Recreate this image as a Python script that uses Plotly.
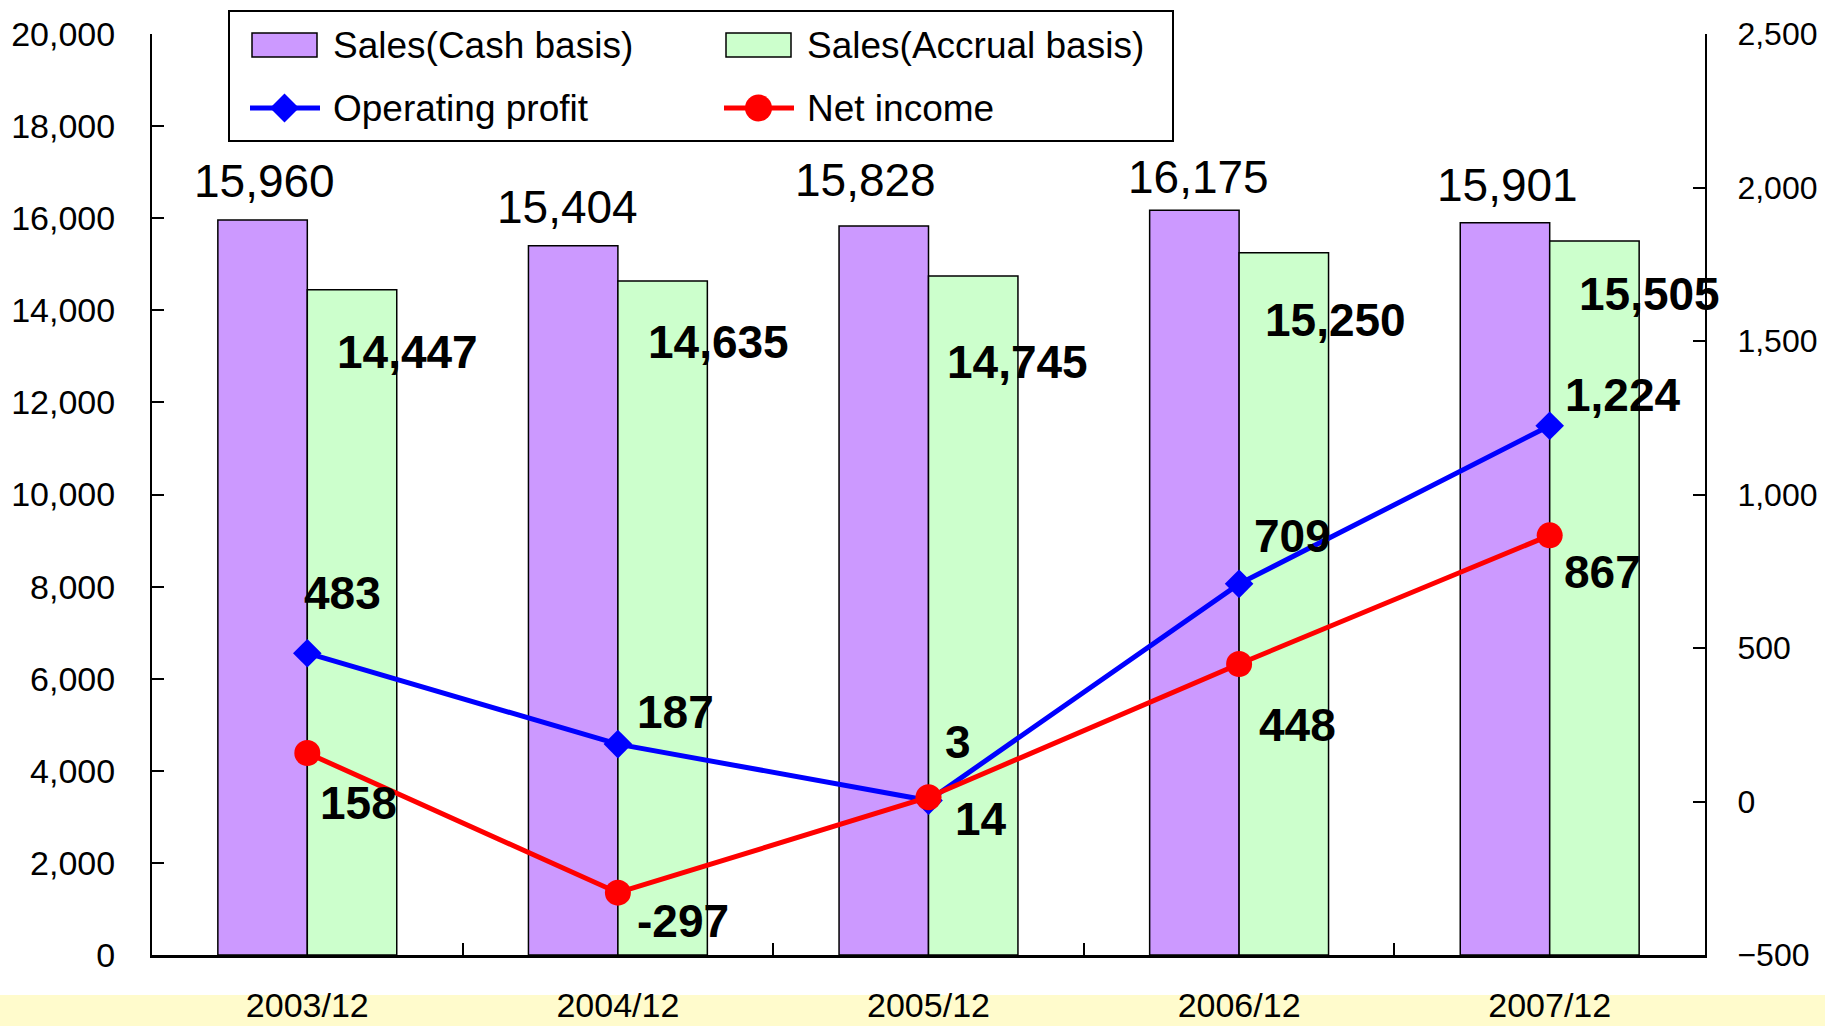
import plotly.graph_objects as go

# ---------------- data ----------------
categories = ["2003/12", "2004/12", "2005/12", "2006/12", "2007/12"]
sales_cash = [15960, 15404, 15828, 16175, 15901]
sales_accrual = [14447, 14635, 14745, 15250, 15505]
operating_profit = [483, 187, 3, 709, 1224]
net_income = [158, -297, 14, 448, 867]

left_ticks = list(range(0, 20001, 2000))
right_ticks = list(range(-500, 2501, 500))

# ---------------- layout constants (pixels) ----------------
FIG_W, FIG_H = 1825, 1026
L, R, T, B = 152, 1705, 34, 955
PW, PH = R - L, B - T
BARGAP = 0.424
CAT_PX = PW / len(categories)
BAR_PX = (1 - BARGAP) / 2 * CAT_PX

FONT = "Liberation Sans"
PURPLE = "#CC99FF"
GREEN = "#CCFFCC"
BLUE = "#0000FF"
RED = "#FF0000"

# label offsets in pixels (label placement only)
cash_dx = [2, -6, -18, 4, 3]
cash_dy = [39, 39, 46, 33, 38]
acc_dx = [55, 56, 44, 52, 55]
acc_dy = [62, 61, 86, 67, 53]
op_dx = [35, 58, 29, 53, 73]
op_dy = [60, 32, 59, 48, 31]
ni_dx = [51, 65, 52, 58, 53]
ni_dy = [50, 28, 22, 61, 37]


def px_x(px):
    return (px - L) / PW


def px_y(py):
    return (B - py) / PH


fig = go.Figure()
fig.add_trace(go.Bar(x=categories, y=sales_cash, name="Sales(Cash basis)",
                     marker=dict(color=PURPLE, line=dict(color="black", width=1.5)),
                     showlegend=False))
fig.add_trace(go.Bar(x=categories, y=sales_accrual, name="Sales(Accrual basis)",
                     marker=dict(color=GREEN, line=dict(color="black", width=1.5)),
                     showlegend=False))
fig.add_trace(go.Scatter(x=categories, y=operating_profit, name="Operating profit",
                         yaxis="y2", mode="lines+markers",
                         line=dict(color=BLUE, width=5),
                         marker=dict(symbol="diamond", size=22, color=BLUE),
                         showlegend=False))
fig.add_trace(go.Scatter(x=categories, y=net_income, name="Net income",
                         yaxis="y2", mode="lines+markers",
                         line=dict(color=RED, width=5),
                         marker=dict(symbol="circle", size=26, color=RED),
                         showlegend=False))

annotations = []
for i, c in enumerate(categories):
    annotations.append(dict(x=c, y=sales_cash[i], xref="x", yref="y",
                            text=f"{sales_cash[i]:,}", showarrow=False,
                            xshift=-BAR_PX / 2 + cash_dx[i], yshift=cash_dy[i],
                            font=dict(family=FONT, size=46, color="black")))
    annotations.append(dict(x=c, y=sales_accrual[i], xref="x", yref="y",
                            text=f"<b>{sales_accrual[i]:,}</b>", showarrow=False,
                            xshift=BAR_PX / 2 + acc_dx[i], yshift=-acc_dy[i],
                            font=dict(family=FONT, size=46, color="black")))
    annotations.append(dict(x=c, y=operating_profit[i], xref="x", yref="y2",
                            text=f"<b>{operating_profit[i]:,}</b>", showarrow=False,
                            xshift=op_dx[i], yshift=op_dy[i],
                            font=dict(family=FONT, size=46, color="black")))
    annotations.append(dict(x=c, y=net_income[i], xref="x", yref="y2",
                            text=f"<b>{net_income[i]:,}</b>", showarrow=False,
                            xshift=ni_dx[i], yshift=-ni_dy[i],
                            font=dict(family=FONT, size=46, color="black")))

# ---------------- manual legend ----------------
shapes = []
# yellow band behind category labels
shapes.append(dict(type="rect", xref="paper", yref="paper",
                   x0=px_x(0), x1=px_x(FIG_W), y0=px_y(FIG_H), y1=px_y(995),
                   fillcolor="#FFFBCC", line=dict(width=0), layer="below"))
# legend box
shapes.append(dict(type="rect", xref="paper", yref="paper",
                   x0=px_x(229), x1=px_x(1173), y0=px_y(141), y1=px_y(11),
                   fillcolor="white", line=dict(color="black", width=2)))
legend_rows = [45, 108]
legend_cols = [(252, 317, 331), (726, 791, 805)]
legend_names = ["Sales(Cash basis)", "Sales(Accrual basis)", "Operating profit", "Net income"]
# bar swatches
for (x0, x1, _), col in zip(legend_cols, [PURPLE, GREEN]):
    shapes.append(dict(type="rect", xref="paper", yref="paper",
                       x0=px_x(x0), x1=px_x(x1), y0=px_y(legend_rows[0] + 12),
                       y1=px_y(legend_rows[0] - 12),
                       fillcolor=col, line=dict(color="black", width=1.5)))
# line swatches
for (x0, x1, _), col in zip(legend_cols, [BLUE, RED]):
    shapes.append(dict(type="line", xref="paper", yref="paper",
                       x0=px_x(x0 - 2), x1=px_x(x1 + 3), y0=px_y(legend_rows[1]),
                       y1=px_y(legend_rows[1]), line=dict(color=col, width=5)))
# diamond
cx, cy, r = (252 + 317) / 2, legend_rows[1], 14.5
shapes.append(dict(type="path", xref="paper", yref="paper",
                   path=f"M {px_x(cx - r)} {px_y(cy)} L {px_x(cx)} {px_y(cy - r)} "
                        f"L {px_x(cx + r)} {px_y(cy)} L {px_x(cx)} {px_y(cy + r)} Z",
                   fillcolor=BLUE, line=dict(width=0)))
# circle
cx, r = (726 + 791) / 2, 13.5
shapes.append(dict(type="circle", xref="paper", yref="paper",
                   x0=px_x(cx - r), x1=px_x(cx + r), y0=px_y(cy + r), y1=px_y(cy - r),
                   fillcolor=RED, line=dict(width=0)))
for k, name in enumerate(legend_names):
    row, col = divmod(k, 2)
    annotations.append(dict(x=px_x(legend_cols[col][2]), y=px_y(legend_rows[row]),
                            xref="paper", yref="paper", xanchor="left", yanchor="middle",
                            text=name, showarrow=False,
                            font=dict(family=FONT, size=37, color="black")))

axis_common = dict(showline=True, linecolor="black", linewidth=2, ticks="inside",
                   ticklen=12, tickwidth=2, tickcolor="black", showgrid=False,
                   zeroline=False, automargin=False)

fig.update_layout(
    template="none",
    width=FIG_W, height=FIG_H,
    margin=dict(l=L, r=FIG_W - R, t=T, b=FIG_H - B, pad=0, autoexpand=False),
    paper_bgcolor="white", plot_bgcolor="white",
    barmode="group", bargap=BARGAP, bargroupgap=0,
    showlegend=False,
    font=dict(family=FONT, color="black"),
    xaxis=dict(type="category", range=[-0.5, 4.5], tickson="boundaries",
               showline=True, linecolor="black", linewidth=3, ticks="inside",
               ticklen=12, tickwidth=2, tickcolor="black", showgrid=False,
               zeroline=False, automargin=False,
               tickfont=dict(family=FONT, size=34, color="black"),
               ticklabelstandoff=18),
    yaxis=dict(range=[0, 20000], tickvals=left_ticks, tickformat=",d",
               ticklabelstandoff=28,
               tickfont=dict(family=FONT, size=34, color="black"), **axis_common),
    yaxis2=dict(range=[-500, 2500], tickvals=right_ticks, tickformat=",d",
                overlaying="y", side="right", ticklabelstandoff=24,
                tickfont=dict(family=FONT, size=32, color="black"), **axis_common),
    annotations=annotations,
    shapes=shapes,
)

fig.write_html("out.html", config={"displayModeBar": False},
               post_script="document.body.style.margin='0';document.body.style.overflow='hidden';")
